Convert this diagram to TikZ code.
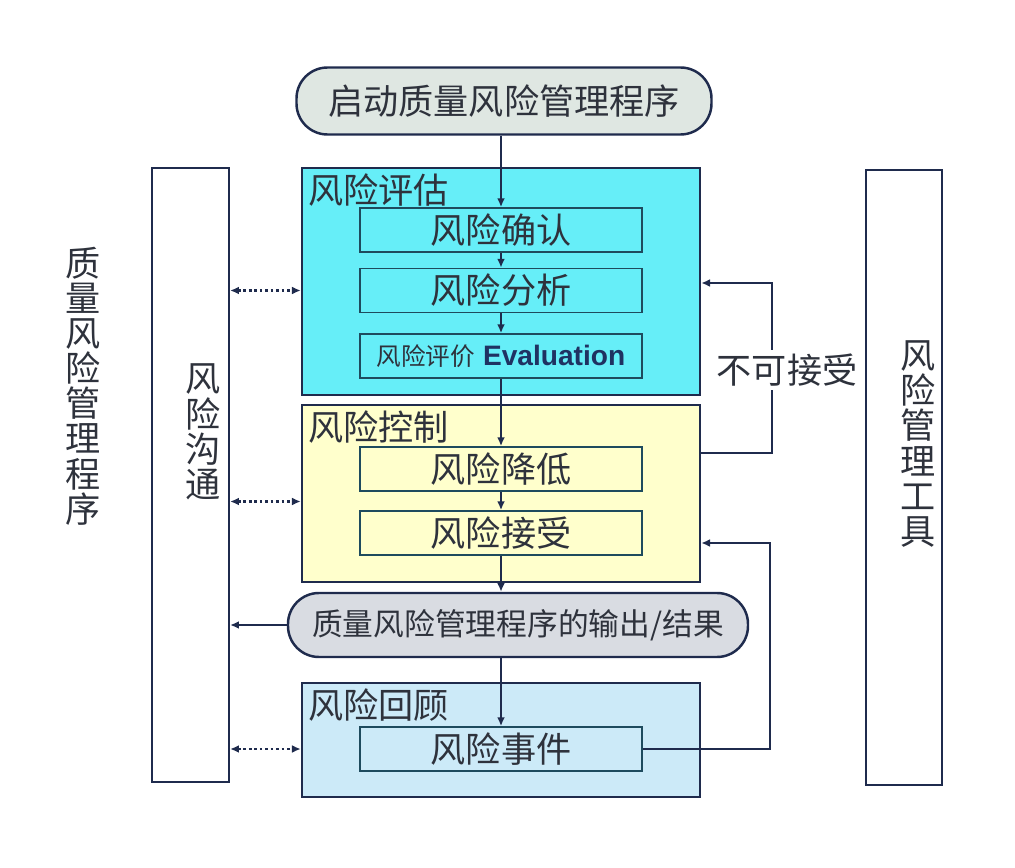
\documentclass[tikz,border=0pt]{standalone}
\usepackage{fontspec}
\usetikzlibrary{arrows.meta, positioning}

\newfontfamily\cjk{Noto Sans CJK SC}
\newfontfamily\lat{Liberation Sans}

\definecolor{navy}{HTML}{1F2B4D}
\definecolor{stepline}{HTML}{1E4B5E}
\definecolor{txtgray}{HTML}{2E323C}
\definecolor{evalblue}{HTML}{1F3262}
\definecolor{startfill}{HTML}{DFE7E2}
\definecolor{outfill}{HTML}{D9DCE2}
\definecolor{assesscol}{HTML}{66EEF8}
\definecolor{controlcol}{HTML}{FFFFCC}
\definecolor{reviewcol}{HTML}{CCEAF8}

\tikzset{
  stage/.style={draw=navy, line width=1.4pt, inner sep=0pt, minimum width=398*\pxl},
  stepbox/.style={draw=stepline, line width=1pt, inner sep=0pt,
    minimum width=282*\pxl, minimum height=44*\pxl},
  capsule/.style={draw=navy, line width=1.4pt, inner sep=0pt, rounded corners=0.62cm},
  tallbox/.style={draw=navy, line width=1.3pt, fill=white, inner sep=0pt, minimum width=77*\pxl},
  vtext/.style={align=center, inner sep=0pt},
  title/.style={anchor=north west, inner sep=4pt},
  flow/.style={->, draw=navy, line width=1.3pt},
  link/.style={<->, draw=navy, line width=1.5pt, dash pattern=on 1.5pt off 1.6pt}
}

\begin{document}
% 参数设置
\def\pxl{0.02cm} % 一个像素的长度

\begin{tikzpicture}[x=\pxl, y=-\pxl, >={Latex[length=5pt,width=4.5pt]},
  every node/.style={text=txtgray, font=\cjk\fontsize{20}{20}\selectfont}]
    % 画布
    \useasboundingbox (0,0) rectangle (1015,868);

    % 左右两侧的长框
    \node[tallbox, minimum height=614*\pxl] (comm) at (190.5,475) {};
    \node[tallbox, minimum width=76*\pxl, minimum height=615*\pxl] (tools) at (904,477.5) {};
    \node[vtext] (commt) at (203,432) {风\\险\\沟\\通};
    \node[vtext] (toolst) at (918,444) {风\\险\\管\\理\\工\\具};
    \node[vtext] (qrm) at (83,386) {质\\量\\风\\险\\管\\理\\程\\序};

    % 起点
    \node[capsule, fill=startfill, minimum width=415*\pxl, minimum height=67*\pxl] (start)
      at (504,101) {启动质量风险管理程序};

    % 三个阶段
    \node[stage, fill=assesscol, minimum height=227*\pxl] (assess) at (501,281.5) {};
    \node[stage, fill=controlcol, minimum height=177*\pxl] (control) at (501,493.5) {};
    \node[stage, fill=reviewcol, minimum height=114*\pxl] (review) at (501,740) {};
    \node[title] (assesst) at (assess.north west) {风险评估};
    \node[title] (controlt) at (control.north west) {风险控制};
    \node[title] (reviewt) at (review.north west) {风险回顾};

    % 各步骤
    \node[stepbox] (confirm) at (501,230) {风险确认};
    \node[stepbox] (analyze) at (501,290.5) {风险分析};
    \node[stepbox] (evaluate) at (501,356)
      {{\fontsize{14}{14}\selectfont 风险评价} {\lat\bfseries\fontsize{16}{16}\selectfont\color{evalblue}Evaluation}};
    \node[stepbox] (reduce) at (501,469) {风险降低};
    \node[stepbox] (accept) at (501,533) {风险接受};
    \node[stepbox] (event) at (501,749) {风险事件};

    % 输出/结果
    \node[capsule, fill=outfill, minimum width=460*\pxl, minimum height=64*\pxl,
      font=\cjk\fontsize{17.5}{17.5}\selectfont] (output) at (518,625) {质量风险管理程序的输出/结果};

    % 主流程
    \draw[flow] (start.south -| confirm.north) -- (confirm.north);
    \draw[flow] (confirm) -- (analyze);
    \draw[flow] (analyze) -- (evaluate);
    \draw[flow] (evaluate) -- (reduce);
    \draw[flow] (reduce) -- (accept);
    \draw[flow] (accept.south) -- (accept.south |- output.north);
    \draw[flow] (accept.south |- output.south) -- (event.north);
    \draw[flow] (output.west) -- (comm.east |- output.west);

    % 与风险沟通之间的双向虚线
    \draw[link] (comm.east |- analyze) -- (assess.west |- analyze);
    \draw[link] ([yshift=-8*\pxl]comm.east |- control) -- ([yshift=-8*\pxl]control.west);
    \draw[link] (comm.east |- event) -- (review.west |- event);

    % 不可接受 返回
    \coordinate (back1) at (772,283);
    \coordinate (back2) at (772,453);
    \draw[flow] (control.east |- back2) -- (back2) -- (back1) -- (assess.east |- back1);
    \node[fill=white, inner sep=2pt] (unacc) at (787,370) {不可接受};

    % 风险事件 返回
    \coordinate (back3) at (770,543);
    \draw[flow] (event.east) -- (event.east -| back3) -- (back3) -- (control.east |- back3);
\end{tikzpicture}
\end{document}
